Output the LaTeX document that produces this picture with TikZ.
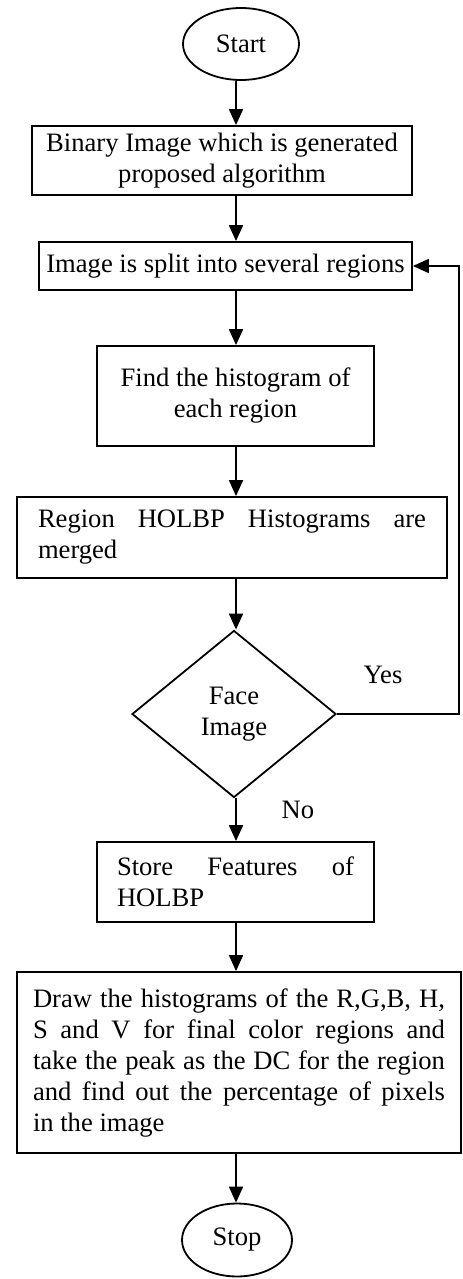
\documentclass[tikz,border=0pt]{standalone}
\usepackage{fontspec}
\setmainfont{Liberation Serif}
\usetikzlibrary{arrows.meta,positioning,shapes.geometric}
\newcommand{\flowfont}{\fontsize{13.3}{15.5}\selectfont}
\tikzset{
  flowarrow/.style={black, -{Triangle[length=8pt,width=7pt]}, line width=0.9pt},
  termnode/.style={draw, ellipse, line width=0.9pt, inner sep=0pt, font=\flowfont},
  boxnode/.style={draw, rectangle, line width=0.9pt, align=center, inner sep=0pt, font=\flowfont},
  justnode/.style={draw, rectangle, line width=0.9pt, align=justify, inner ysep=0pt, font=\flowfont},
  decnode/.style={draw, diamond, line width=0.9pt, inner sep=0pt, align=center, font=\flowfont},
  labelnode/.style={inner sep=0pt, font=\flowfont}
}

\begin{document}
\begin{tikzpicture}[x=0.5pt, y=-0.5pt]
  \useasboundingbox (0,0) rectangle (462,1279);
  \coordinate (spine) at (236,0);
  \node[termnode, minimum width=58pt, minimum height=36pt] (start) at (241,44) {Start};
  \node[boxnode, minimum width=190pt, minimum height=34.5pt] (binimg) at (222,160.5) {Binary Image which is generated\\proposed algorithm};
  \node[boxnode, minimum width=186.5pt, minimum height=24pt] (split) at (225.5,266) {Image is split into several regions};
  \node[boxnode, minimum width=138.5pt, minimum height=50pt] (hist) at (235.5,396) {Find the histogram of\\each region};
  \node[justnode, text width=194pt, inner xsep=10.5pt, minimum height=40.5pt] (merge) at (232,537.5) {Region HOLBP Histograms are\linebreak merged};
  \node[decnode, minimum width=102pt, minimum height=83.5pt] (face) at (234,714) {Face\\Image};
  \node[labelnode] (yes) at (383,675) {Yes};
  \node[labelnode] (no) at (298,810) {No};
  \node[justnode, text width=118.5pt, inner xsep=10pt, minimum height=40pt] (store) at (235.5,882) {Store Features of\linebreak HOLBP};
  \node[justnode, text width=206pt, inner xsep=8pt, minimum height=90.5pt] (drawhist) at (239,1062.5) {Draw the histograms of the R,G,B, H,\linebreak S and V for final color regions and\linebreak take the peak as the DC for the region\linebreak and find out the percentage of pixels\linebreak in the image};
  \node[termnode, minimum width=55pt, minimum height=36.5pt] (stop) at (237,1240) {Stop};
  \coordinate (loop) at (459,266);
  \draw[flowarrow] (start.south -| spine) -- (binimg.north -| spine);
  \draw[flowarrow] (binimg.south -| spine) -- (split.north -| spine);
  \draw[flowarrow] (split.south -| spine) -- (hist.north -| spine);
  \draw[flowarrow] (hist.south -| spine) -- (merge.north -| spine);
  \draw[flowarrow] (merge.south -| spine) -- (face.north -| spine);
  \draw[flowarrow] (face.south -| spine) -- (store.north -| spine);
  \draw[flowarrow] (store.south -| spine) -- (drawhist.north -| spine);
  \draw[flowarrow] (drawhist.south -| spine) -- (stop.north -| spine);
  \draw[flowarrow] (face.east) -| (loop) -- (split.east);
\end{tikzpicture}
\end{document}
